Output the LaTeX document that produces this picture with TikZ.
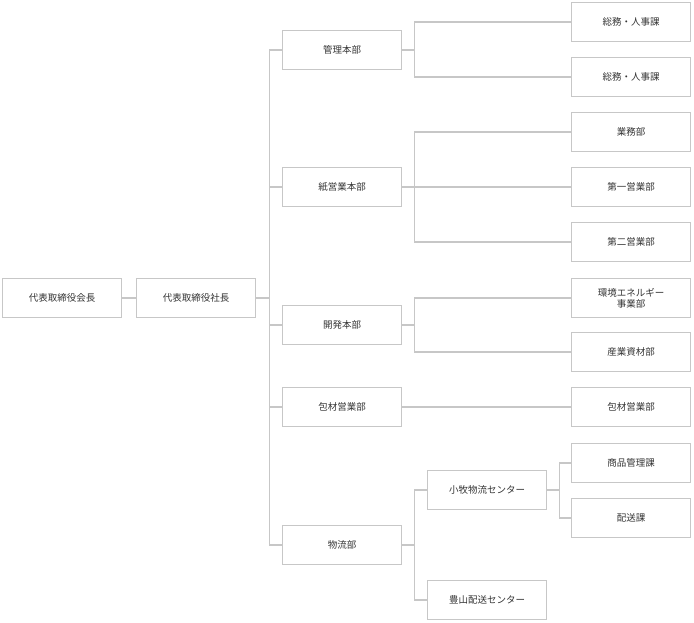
\documentclass[tikz,border=0pt]{standalone}
\usepackage{fontspec}
\setmainfont{Noto Sans CJK JP}
\begin{document}
\begin{tikzpicture}[x=1pt,y=-1pt]
      \useasboundingbox (0,0) rectangle (694,622);

      \begin{scope}[every node/.style={draw=black!22,line width=1.2pt,minimum width=119pt,minimum height=39pt,inner sep=0pt,font=\fontsize{9.5}{11}\selectfont,text=black!80,align=center}]
        \node (chair) at (62,298)  {代表取締役会長};
        \node (ceo)   at (196,298) {代表取締役社長};

        \node (kanri)  at (342,50)  {管理本部};
        \node (kami)   at (342,187) {紙営業本部};
        \node (kaihatsu) at (342,325) {開発本部};
        \node (houzai) at (342,407) {包材営業部};
        \node (butsu)  at (342,545) {物流部};

        \node (somu1)  at (631,22)  {総務・人事課};
        \node (somu2)  at (631,77)  {総務・人事課};
        \node (gyomu)  at (631,132) {業務部};
        \node (eigyo1) at (631,187) {第一営業部};
        \node (eigyo2) at (631,242) {第二営業部};
        \node (kankyo) at (631,298) {環境エネルギー\\事業部};
        \node (sangyo) at (631,352) {産業資材部};
        \node (houzai2) at (631,407) {包材営業部};
        \node (komaki) at (487,490) {小牧物流センター};
        \node (shohin) at (631,463) {商品管理課};
        \node (haiso)  at (631,518) {配送課};
        \node (toyo)   at (487,600) {豊山配送センター};
      \end{scope}

      \begin{scope}[every path/.style={draw=black!22,line width=1.2pt}]
        \path (chair) -- (ceo);
        \foreach \n in {kanri,kami,kaihatsu,houzai,butsu}
          \path (ceo.east) -- ++(13,0) |- (\n.west);
        \foreach \n in {somu1,somu2}
          \path (kanri.east) -- ++(12,0) |- (\n.west);
        \foreach \n in {gyomu,eigyo1,eigyo2}
          \path (kami.east) -- ++(12,0) |- (\n.west);
        \foreach \n in {kankyo,sangyo}
          \path (kaihatsu.east) -- ++(12,0) |- (\n.west);
        \path (houzai) -- (houzai2);
        \foreach \n in {komaki,toyo}
          \path (butsu.east) -- ++(12,0) |- (\n.west);
        \foreach \n in {shohin,haiso}
          \path (komaki.east) -- ++(12,0) |- (\n.west);
      \end{scope}

    \end{tikzpicture}
\end{document}
